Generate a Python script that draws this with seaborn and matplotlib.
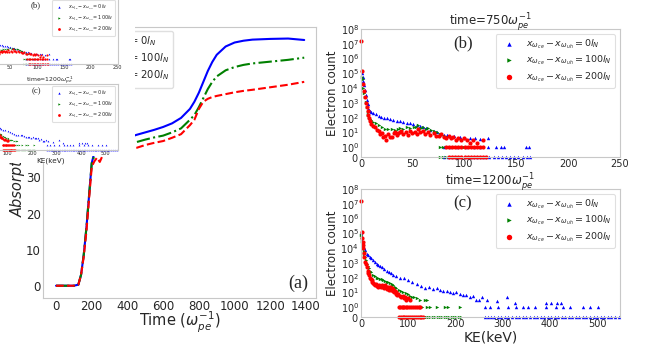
import numpy as np
import seaborn as sns
import matplotlib
matplotlib.use("Agg")
import matplotlib.pyplot as plt
from matplotlib.patches import Rectangle

# ---- panel (a): absorption vs time ----
time_a = [0, 50, 100, 125, 140, 155, 170, 185, 200, 215, 230, 245, 260, 300, 350, 400, 450, 500,
          550, 600, 650, 700, 750, 775, 800, 825, 850, 875, 900, 950, 1000, 1050, 1100, 1200, 1300, 1390]
abs_0 = [0, 0, 0, 0.3, 3, 8.5, 16, 25, 34, 37, 38, 38.6, 39, 39.6, 40.3, 41, 41.8, 42.5,
         43.2, 44, 45, 46.5, 49, 51, 53.5, 56.5, 59.5, 62, 64, 66.3, 67.4, 67.9, 68.2, 68.4, 68.5, 68.1]
abs_100 = [0, 0, 0, 0.3, 3, 8.5, 16, 25, 34, 36, 37, 37.5, 38, 38.3, 38.8, 39.3, 39.8, 40.5,
           41.1, 41.6, 42.5, 43.6, 46, 47.3, 49.5, 52, 54.5, 56.5, 58, 59.7, 60.6, 61.2, 61.6, 62.1, 62.6, 63.2]
abs_200 = [0, 0, 0, 0.3, 3, 8, 15, 24, 33, 34.5, 35.5, 34.3, 36, 37, 37.4, 37.8, 38.2, 39,
           39.6, 40.1, 41, 42, 44.5, 46, 49, 51, 51.8, 52.3, 52.6, 53.1, 53.6, 54, 54.3, 55, 55.7, 56.5]

labels = [r'$x_{\omega_{ce}} - x_{\omega_{uh}} = 0l_N$',
          r'$x_{\omega_{ce}} - x_{\omega_{uh}} = 100l_N$',
          r'$x_{\omega_{ce}} - x_{\omega_{uh}} = 200l_N$']

# ---- panel (b): spectrum at t=750 ----
b_blue_ke = [0.6, 1.5, 2.3, 3.1, 3.9, 4.7, 5.5, 6.3, 7.0, 8.0,
             8.7, 10, 12, 14, 17, 19, 22, 25, 28, 31,
             35, 38, 41, 44, 47, 50, 54, 57, 60, 63,
             67, 70, 73, 77, 80, 83, 86, 90, 96, 100,
             105, 110, 115, 123]
b_blue_n = [1e5, 6e4, 3e4, 1.5e4, 8e3, 3.5e3, 1.5e3, 800, 400, 330,
            300, 250, 200, 170, 130, 115, 100, 90, 75, 68,
            60, 55, 48, 44, 40, 36, 30, 26, 23, 19,
            15, 12, 10, 8, 7, 7, 6, 5.5, 5, 4,
            4.5, 4, 3.5, 4]
b_blue_ones = [80, 86, 93, 101, 109, 115, 123, 130, 135, 138, 159, 162]
b_blue_zeros = [80, 84, 88, 92, 96, 100, 104, 108, 112, 116, 120, 124, 128,
                132, 136, 140, 144, 148, 152, 156, 160, 163]

b_green_ke = [0.6, 1.5, 2.3, 3.1, 3.9, 4.7, 5.5, 6.3, 7.0, 8.0,
              8.7, 10, 12, 14, 17, 20, 23, 26, 30, 33,
              36, 38, 41, 44, 47, 51, 53, 55, 58, 60,
              63, 65, 68, 70, 73, 76, 80, 83]
b_green_n = [6e4, 4e4, 1e4, 5e3, 2.5e3, 1.2e3, 500, 250, 150, 110,
             85, 65, 50, 40, 30, 22, 18, 16, 18, 15,
             17, 20, 18, 23, 20, 25, 22, 30, 20, 23,
             18, 20, 15, 12, 10, 8, 6, 5]
b_green_ones = [76, 79, 82, 86, 90, 94, 99]
b_green_zeros = [76, 79, 82, 85, 88, 91, 94]

b_red_ke = [0.3, 1.3, 2.3, 3.1, 3.9, 4.7, 5.5, 6.3, 7.0, 7.8,
            8.7, 10, 11.5, 13.5, 15, 17, 18.5, 20, 21.5, 23,
            24.5, 26, 28, 30, 31.5, 33, 34.5, 36, 37.5, 39,
            41, 43, 45, 47, 49, 52, 54, 55, 57, 60,
            62, 65, 67, 70, 72, 75, 77, 80, 82, 85,
            87, 89, 92, 94, 97, 99, 102, 105, 108, 112,
            118]
b_red_n = [1.5e7, 1.4e5, 2e4, 6e3, 2.5e3, 1e3, 500, 300, 150, 90,
           60, 35, 28, 23, 15, 12, 8, 9, 5, 6,
           3, 8, 5, 5, 9, 10, 7, 9, 11, 12,
           8, 10, 7, 13, 9, 10, 8, 18, 11, 12,
           8, 10, 7, 9, 6, 6, 8, 5, 4, 6,
           4, 5, 3, 4, 3, 4, 3, 2, 3, 2,
           3]
b_red_ones = [82, 85, 88, 91, 94, 97, 100, 103, 106, 109, 112, 115, 118]
b_red_zeros = [85, 88, 91, 94, 97, 100, 103, 106, 109, 112, 115, 118, 121]

# ---- panel (c): spectrum at t=1200 ----
c_blue_ke = [1, 2, 3, 4, 5, 7, 9, 12, 15, 19,
             22, 26, 30, 33, 37, 40, 44, 48, 54, 60,
             64, 68, 74, 82, 90, 100, 108, 118, 126, 135,
             143, 153, 160, 168, 174, 182, 188, 195, 202, 210,
             216, 223, 230, 237, 244, 250, 255, 266, 287, 308,
             325, 392, 403, 414, 424]
c_blue_n = [1e5, 6e4, 3e4, 2e4, 1.5e4, 1e4, 7e3, 4e3, 3.2e3, 2.5e3,
            2e3, 1.5e3, 1.2e3, 900, 750, 650, 500, 400, 300, 230,
            200, 160, 130, 100, 90, 65, 50, 35, 28, 20,
            22, 18, 20, 14, 12, 12, 10, 9, 10, 8,
            7, 7, 5, 6, 3, 3, 5, 3, 2.5, 5,
            2, 2, 2, 2, 2]
c_blue_ones = [262, 272, 290, 311, 329, 343, 353, 368, 392, 413, 427, 442, 470, 484, 501]
c_blue_zeros = [262, 268, 275, 282, 290, 297, 305, 312, 320, 328, 335, 342, 350,
                357, 365, 372, 380, 388, 395, 402, 410, 417, 425, 432, 440, 447,
                455, 462, 470, 477, 485, 492, 500, 507, 515, 522, 530, 537, 545]

c_green_ke = [1, 2, 3, 4, 5, 6, 7, 8.5, 10, 12,
              14, 16, 19, 22, 26, 30, 34, 37, 41, 44,
              47, 51, 55, 58, 62, 65, 68, 72, 75, 80,
              85, 89, 95, 100, 103, 108, 112, 118, 125, 135,
              140]
c_green_n = [8e4, 6e4, 3e4, 1.5e4, 1e4, 6e3, 4e3, 2.5e3, 1.6e3, 900,
             650, 450, 300, 230, 160, 130, 100, 95, 80, 75,
             70, 60, 50, 48, 40, 35, 30, 25, 20, 15,
             12, 10, 9, 8, 6, 5, 5, 4, 3, 3,
             3]
c_green_ones = [107, 121, 130, 139, 146, 160, 177, 185, 209]
c_green_zeros = [132, 137, 142, 147, 152, 157, 162, 167, 172, 177, 182, 187,
                 192, 197, 202, 207, 212]

c_red_ke = [1, 2, 2.8, 3.5, 4.2, 5, 6, 7, 8.5, 10,
            12, 14, 15.5, 17.6, 19.5, 21, 22.5, 24, 26, 28,
            30, 32, 34, 36, 38, 40, 42, 44, 46, 48,
            51, 53, 55, 57, 59, 61, 63, 65, 67, 68,
            70, 72, 74, 75, 77, 79, 82, 85, 88, 90,
            93, 96, 100, 103]
c_red_n = [1.5e7, 1.2e5, 5e4, 2.5e4, 1.6e4, 1e4, 5e3, 2.5e3, 1.2e3, 800,
           500, 300, 200, 140, 100, 80, 65, 50, 40, 35,
           30, 35, 28, 25, 30, 27, 22, 30, 25, 20,
           30, 25, 18, 23, 15, 23, 14, 20, 12, 18,
           10, 12, 8, 10, 7, 8, 6, 5, 6, 4,
           5, 3, 4, 3]
c_red_ones = [80, 83, 86, 89, 92, 95, 98, 102, 106, 110, 114, 118, 122, 125]
c_red_zeros = [80, 84, 88, 92, 96, 100, 104, 108, 112, 116, 120, 124, 128, 132]

colors = ['blue', 'green', 'red']
markers = ['^', '>', 'o']
msizes = [6, 6, 9]
spine_col = '#c8c8c8'

sns.set_style('whitegrid')
W, H = 654, 348
fig = plt.figure(figsize=(W / 100, H / 100), dpi=100)


def px_axes(l, t, r, b, z=0):
    ax = fig.add_axes([l / W, 1 - b / H, (r - l) / W, (b - t) / H])
    ax.set_zorder(z)
    ax.grid(False)
    for s in ax.spines.values():
        s.set_color(spine_col)
    return ax


def combine(ke, n, ones, zeros):
    return (list(ke) + list(ones) + list(zeros),
            list(n) + [1] * len(ones) + [0] * len(zeros))


def draw_spectrum(ax, series, xmax, xticks, title, tag, k=1.0, xlabel=None):
    for (ke, n), col, mk, ms, lab in zip(series, colors, markers, msizes, labels):
        sns.scatterplot(x=ke, y=n, color=col, marker=mk, s=ms * k * k, linewidth=0,
                        ax=ax, label=lab, clip_on=False)
    ax.set_yscale('symlog', linthresh=1, linscale=0.6)
    ax.set_ylim(0, 1e8)
    ax.set_yticks([0] + [10 ** i for i in range(9)])
    ax.set_xlim(0, xmax)
    ax.set_xticks(xticks)
    ax.tick_params(labelsize=7 * k, pad=1.5 * k, length=0)
    ax.set_ylabel('Electron count', fontsize=8.5 * k, labelpad=1)
    ax.set_xlabel(xlabel if xlabel else '', fontsize=10 * k, labelpad=1)
    ax.set_title(title, fontsize=8.5 * k, pad=3 * k)
    ax.text(0.394, 0.89, tag, transform=ax.transAxes, ha='center', va='center',
            fontsize=12 * k, family='Liberation Serif')
    leg = ax.legend(loc='upper right', fontsize=6.8 * k, frameon=True, borderaxespad=0.5,
                    handletextpad=0.8, markerscale=1.3, labelspacing=0.3)
    leg.get_frame().set_edgecolor('#d8d8d8')
    leg.get_frame().set_linewidth(0.8)


b_series = [combine(b_blue_ke, b_blue_n, b_blue_ones, b_blue_zeros),
            combine(b_green_ke, b_green_n, b_green_ones, b_green_zeros),
            combine(b_red_ke, b_red_n, b_red_ones, b_red_zeros)]
c_series = [combine(c_blue_ke, c_blue_n, c_blue_ones, c_blue_zeros),
            combine(c_green_ke, c_green_n, c_green_ones, c_green_zeros),
            combine(c_red_ke, c_red_n, c_red_ones, c_red_zeros)]
t750 = r'time=750$\omega_{pe}^{-1}$'
t1200 = r'time=1200$\omega_{pe}^{-1}$'

# panel (a)
ax_a = px_axes(43, 27, 316, 298, z=0)
for y, col, ls, lab in zip([abs_0, abs_100, abs_200], colors, ['-', '-.', '--'], labels):
    sns.lineplot(x=time_a, y=y, color=col, linestyle=ls, linewidth=1.5, ax=ax_a, label=lab)
ax_a.set_xlim(-73, 1456)
ax_a.set_ylim(-3.4, 71.7)
ax_a.set_xticks(range(0, 1401, 200))
ax_a.set_yticks(range(0, 71, 10))
ax_a.tick_params(labelsize=8.5, pad=1.5, length=0)
ax_a.set_xlabel(r'Time ($\omega_{pe}^{-1}$)', fontsize=10.5, labelpad=-2)
ax_a.set_ylabel('Absorption (%)', fontsize=10.5, fontstyle='italic', labelpad=0)
ax_a.text(0.934, 0.055, '(a)', transform=ax_a.transAxes, ha='center', va='center',
          fontsize=13, family='Liberation Serif')
leg_a = ax_a.legend(loc='upper left', fontsize=7.2, labelspacing=0.2, borderaxespad=0.4)
leg_a.get_frame().set_edgecolor('#d8d8d8')

# panels (b) and (c)
ax_b = px_axes(361, 29, 620, 157)
draw_spectrum(ax_b, b_series, 250, range(0, 251, 50), t750, '(b)')
ax_c = px_axes(361, 189, 620, 317)
draw_spectrum(ax_c, c_series, 548, range(0, 501, 100), t1200, '(c)', xlabel='KE(keV)')

# pasted-over small copy of (b) and (c) in the top-left corner
fig.add_artist(Rectangle((0, 1 - 156 / H), 135 / W, 156 / H, transform=fig.transFigure,
                         facecolor='white', edgecolor='none', zorder=1))
fig.add_artist(Rectangle((0, 1 - 163 / H), 88 / W, 163 / H, transform=fig.transFigure,
                         facecolor='white', edgecolor='none', zorder=1))
k = 0.52
ax_bs = px_axes(-17, -2, 117.6, 64, z=2)
draw_spectrum(ax_bs, b_series, 250, range(0, 251, 50), t750, '(b)', k=k)
ax_cs = px_axes(-17, 84, 117.6, 150, z=2)
draw_spectrum(ax_cs, c_series, 548, range(0, 501, 100), t1200, '(c)', k=k, xlabel='KE(keV)')

fig.savefig('out.png', dpi=100)
